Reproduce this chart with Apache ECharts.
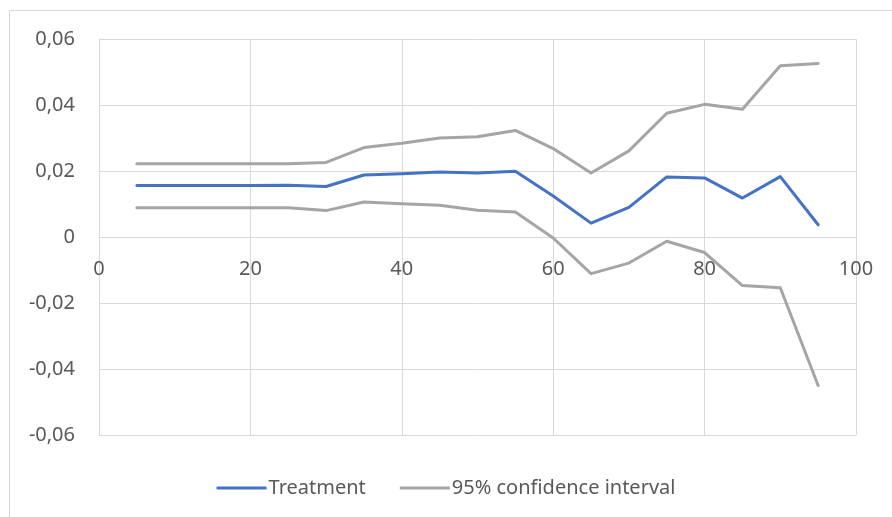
<!DOCTYPE html>
<html>
<head>
<meta charset="utf-8">
<script src="https://cdn.jsdelivr.net/npm/echarts@6/dist/echarts.min.js"></script>
<style>
  html, body { margin: 0; padding: 0; background: #fff; }
  #chart { width: 892px; height: 517px; }
</style>
</head>
<body>
<div id="chart"></div>
<script>
// x positions (percentile)
var xs = [5, 10, 15, 20, 25, 30, 35, 40, 45, 50, 55, 60, 65, 70, 75, 80, 85, 90, 95];
// treatment effect
var treatment = [0.0156, 0.0156, 0.0156, 0.0156, 0.0157, 0.0153, 0.0188, 0.0192, 0.0197, 0.0194, 0.0199,
  0.0124, 0.0042, 0.0090, 0.0182, 0.0179, 0.0118, 0.0183, 0.0037];
// 95% confidence interval, upper and lower bound
var upper = [0.0222, 0.0222, 0.0222, 0.0222, 0.0222, 0.0226, 0.0271, 0.0284, 0.0300, 0.0304, 0.0323,
  0.0268, 0.0194, 0.0261, 0.0375, 0.0402, 0.0387, 0.0519, 0.0526];
var lower = [0.0089, 0.0089, 0.0089, 0.0089, 0.0089, 0.0080, 0.0106, 0.0101, 0.0096, 0.0081, 0.0076,
  -0.0003, -0.0111, -0.0079, -0.0013, -0.0047, -0.0147, -0.0154, -0.0450];

function pairs(ys) {
  return xs.map(function (x, i) { return [x, ys[i]]; });
}

var font = 'Noto Sans';
var textColor = '#595959';
var gridColor = '#d9d9d9';

var chart = echarts.init(document.getElementById('chart'));
chart.setOption({
  animation: false,
  textStyle: { fontFamily: font },
  graphic: [{
    type: 'rect',
    shape: { x: 9.5, y: 10.5, width: 900, height: 600 },
    style: { fill: 'none', stroke: gridColor, lineWidth: 1 },
    silent: true
  }],
  grid: { left: 99, right: 36, top: 39, bottom: 82 },
  legend: {
    bottom: 14,
    left: 'center',
    itemWidth: 50,
    itemHeight: 3,
    itemGap: 34,
    icon: 'rect',
    textStyle: { fontSize: 20, color: textColor, fontFamily: font, padding: [0, 0, 0, -3] },
    data: ['Treatment', '95% confidence interval']
  },
  xAxis: {
    type: 'value',
    min: 0,
    max: 100,
    interval: 20,
    position: 'bottom',
    // the axis sits on y = 0 (plot height 396px, zero at the middle)
    offset: -198,
    axisLine: { onZero: false, lineStyle: { color: gridColor, width: 1 } },
    axisTick: { show: false },
    axisLabel: { fontSize: 20, color: textColor, margin: 22 },
    splitLine: { show: true, lineStyle: { color: gridColor, width: 1 } }
  },
  yAxis: {
    type: 'value',
    min: -0.06,
    max: 0.06,
    interval: 0.02,
    axisLine: { show: true, lineStyle: { color: gridColor, width: 1 } },
    axisTick: { show: false },
    axisLabel: {
      fontSize: 20,
      color: textColor,
      margin: 24,
      formatter: function (v) {
        var r = Math.round(v * 100) / 100;
        if (r === 0) return '0';
        return r.toFixed(2).replace('.', ',');
      }
    },
    splitLine: { show: true, lineStyle: { color: gridColor, width: 1 } }
  },
  series: [
    {
      name: 'Treatment',
      type: 'line',
      data: pairs(treatment),
      showSymbol: false,
      symbol: 'none',
      lineStyle: { color: '#4472c4', width: 3, cap: 'round', join: 'round' },
      itemStyle: { color: '#4472c4' },
      z: 3
    },
    {
      name: '95% confidence interval',
      type: 'line',
      data: pairs(upper),
      showSymbol: false,
      symbol: 'none',
      lineStyle: { color: '#a5a5a5', width: 3, cap: 'round', join: 'round' },
      itemStyle: { color: '#a5a5a5' }
    },
    {
      name: '95% confidence interval',
      type: 'line',
      data: pairs(lower),
      showSymbol: false,
      symbol: 'none',
      lineStyle: { color: '#a5a5a5', width: 3, cap: 'round', join: 'round' },
      itemStyle: { color: '#a5a5a5' }
    }
  ]
});
</script>
</body>
</html>
